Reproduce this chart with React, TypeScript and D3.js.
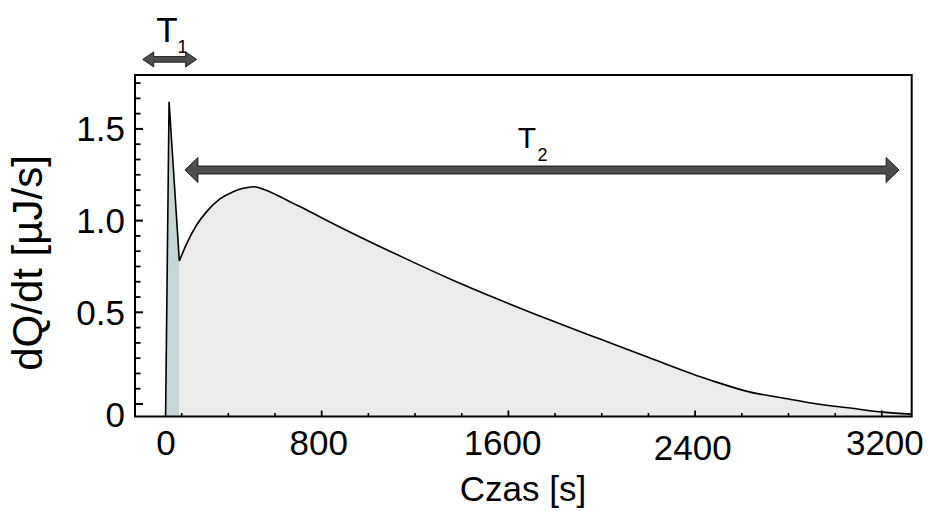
import React from "react";
import * as d3 from "d3";

// ---- data (time in s, heat flow in µJ/s) ----
const spikeT = [131, 146, 190];
const spikeV = [-0.068, 1.648, 0.78];
const decayT = [190, 222, 264, 307, 364, 421, 464, 507, 550, 607, 678, 736, 793, 964, 1136, 1350, 1564, 1779, 1993, 2207, 2464, 2636, 2777, 2923, 3064, 3206, 3326];
const decayV = [0.78, 0.876, 0.976, 1.049, 1.118, 1.158, 1.176, 1.185, 1.171, 1.14, 1.094, 1.058, 1.02, 0.911, 0.807, 0.682, 0.567, 0.458, 0.354, 0.251, 0.131, 0.065, 0.033, 0.0, -0.022, -0.044, -0.055];

const xTickLabels = ["0", "800", "1600", "2400", "3200"];
const xTickLabelAt = [133, 787, 1575, 2390, 3213];
const xMajorTicks = [800, 1600, 2400, 3200];
const yTickLabels = ["0", "0.5", "1.0", "1.5"];
const yTickValues = [0, 0.5, 1.0, 1.5];

// annotation intervals [start, end] in s, and level in µJ/s
const t1Range = [33, 264];
const t1Level = 1.879;
const t2Range = [214, 3274];
const t2Level = 1.276;

const W = 928;
const H = 511;
const FONT = "'Liberation Sans', Arial, sans-serif";

function arrow(x1: number, x2: number, yc: number, sh: number, hh: number, hl: number) {
  const pts = [
    [x1, yc],
    [x1 + hl, yc - hh],
    [x1 + hl, yc - sh],
    [x2 - hl, yc - sh],
    [x2 - hl, yc - hh],
    [x2, yc],
    [x2 - hl, yc + hh],
    [x2 - hl, yc + sh],
    [x1 + hl, yc + sh],
    [x1 + hl, yc + hh],
  ];
  return "M" + pts.map((p) => p.join(",")).join("L") + "Z";
}

export default function App() {
  const left = 135, right = 911.7, top = 75, bottom = 416.5;
  const x = d3.scaleLinear().domain([0, 3328]).range([left, right]);
  const y = d3.scaleLinear().domain([-0.068, 1.794]).range([bottom, top]);

  const spike = spikeT.map((t, i) => [t, spikeV[i]] as [number, number]);
  const decay = decayT.map((t, i) => [t, decayV[i]] as [number, number]);

  const spikeArea = d3
    .area<[number, number]>()
    .x((d) => x(d[0]))
    .y0(bottom)
    .y1((d) => y(d[1]))
    .curve(d3.curveLinear)(spike) as string;
  const decayArea = d3
    .area<[number, number]>()
    .x((d) => x(d[0]))
    .y0(bottom)
    .y1((d) => y(d[1]))
    .curve(d3.curveMonotoneX)(decay) as string;
  const spikeLine = d3
    .line<[number, number]>()
    .x((d) => x(d[0]))
    .y((d) => y(d[1]))
    .curve(d3.curveLinear)(spike) as string;
  const decayLine = d3
    .line<[number, number]>()
    .x((d) => x(d[0]))
    .y((d) => y(d[1]))
    .curve(d3.curveMonotoneX)(decay) as string;

  const xMinor = d3.range(200, 3328, 200).filter((t) => !xMajorTicks.includes(t));
  const yStep = 0.5 / 6;
  const yMinor = d3.range(0, 1.79, yStep).filter((v) => Math.abs(v * 2 - Math.round(v * 2)) > 1e-6);

  return (
    <svg width={W} height={H} style={{ position: "absolute", left: 0, top: 0, background: "#fff" }} fontFamily={FONT}>
      <rect x={0} y={0} width={W} height={H} fill="#fff" />
      <path d={decayArea} fill="#ebebeb" />
      <path d={spikeArea} fill="#c6d5d5" />
      <path d={spikeLine} fill="none" stroke="#000" strokeWidth={1.6} strokeLinejoin="miter" />
      <path d={decayLine} fill="none" stroke="#000" strokeWidth={1.6} />

      {/* ticks */}
      {xMinor.map((t) => (
        <line key={"xm" + t} x1={x(t)} x2={x(t)} y1={bottom} y2={bottom - 3.5} stroke="#000" strokeWidth={1.6} />
      ))}
      {xMajorTicks.map((t) => (
        <line key={"xM" + t} x1={x(t)} x2={x(t)} y1={bottom} y2={bottom - 6} stroke="#000" strokeWidth={1.8} />
      ))}
      {yMinor.map((v) => (
        <line key={"ym" + v} x1={left} x2={left + 5.5} y1={y(v)} y2={y(v)} stroke="#000" strokeWidth={1.8} />
      ))}
      {yTickValues.map((v) => (
        <line key={"yM" + v} x1={left} x2={left + 8} y1={y(v)} y2={y(v)} stroke="#000" strokeWidth={2} />
      ))}

      {/* frame */}
      <rect x={left} y={top} width={right - left} height={bottom - top} fill="none" stroke="#000" strokeWidth={2} />

      {/* tick labels */}
      {yTickLabels.map((l, i) => (
        <text key={"yl" + l} x={125} y={y(yTickValues[i]) + (i === 0 ? 10 : 0)} textAnchor="end" dominantBaseline="central" fontSize={35} fill="#000">
          {l}
        </text>
      ))}
      {xTickLabels.map((l, i) => (
        <text key={"xl" + l} x={x(xTickLabelAt[i])} y={442 + (l === "2400" ? 5 : 0)} textAnchor="middle" dominantBaseline="central" fontSize={35} fill="#000">
          {l}
        </text>
      ))}

      {/* axis titles */}
      <text x={523} y={501} textAnchor="middle" fontSize={35} fill="#000">Czas [s]</text>
      <text transform={`translate(42,263) rotate(-90)`} textAnchor="middle" fontSize={42} fill="#000">dQ/dt [µJ/s]</text>

      {/* annotations */}
      <path d={arrow(x(t1Range[0]), x(t1Range[1]), y(t1Level), 2.8, 7.5, 11)} fill="#4d4d4d" stroke="#000" strokeWidth={0.8} />
      <path d={arrow(x(t2Range[0]), x(t2Range[1]), y(t2Level), 4, 12.5, 13)} fill="#4d4d4d" stroke="#000" strokeWidth={0.8} />
      <text x={167} y={42} textAnchor="middle" fontSize={35} fill="#000">T</text>
      <text x={182.5} y={53} textAnchor="middle" fontSize={18} fill="#000">1</text>
      <text x={527} y={148} textAnchor="middle" fontSize={30} fill="#000">T</text>
      <text x={542.5} y={161} textAnchor="middle" fontSize={18} fill="#000">2</text>
    </svg>
  );
}
